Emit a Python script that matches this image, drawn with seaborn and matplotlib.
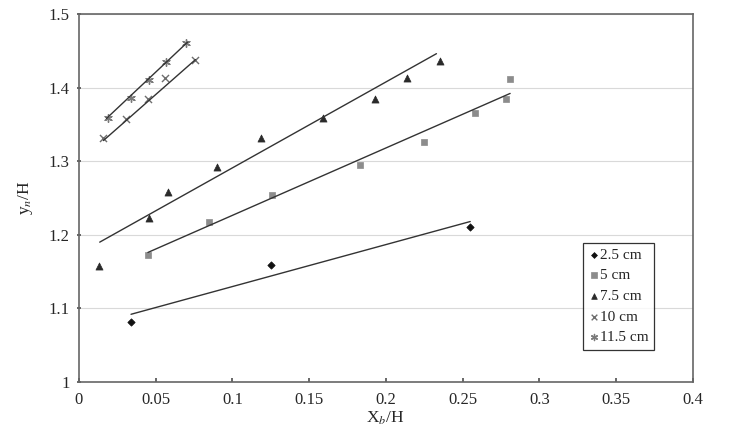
import pandas as pd
import matplotlib.pyplot as plt
import seaborn as sns
import numpy as np

# Data
DEPTHS = ["2.5 cm", "5 cm", "7.5 cm", "10 cm", "11.5 cm"]

x_25 = [0.034, 0.125, 0.255]
y_25 = [1.082, 1.159, 1.210]

x_5 = [0.045, 0.085, 0.126, 0.183, 0.225, 0.258, 0.278, 0.281]
y_5 = [1.172, 1.218, 1.254, 1.295, 1.326, 1.366, 1.385, 1.412]

x_75 = [0.013, 0.046, 0.058, 0.090, 0.119, 0.159, 0.193, 0.214, 0.235]
y_75 = [1.158, 1.223, 1.258, 1.292, 1.331, 1.359, 1.385, 1.413, 1.436]

x_10 = [0.016, 0.031, 0.045, 0.056, 0.076]
y_10 = [1.331, 1.357, 1.384, 1.413, 1.437]

x_115 = [0.019, 0.034, 0.046, 0.057, 0.070]
y_115 = [1.358, 1.386, 1.410, 1.435, 1.461]

# trend line end points (x start, x end, y start, y end)
trend_x0 = [0.034, 0.045, 0.0136, 0.016, 0.018]
trend_x1 = [0.255, 0.281, 0.233, 0.076, 0.071]
trend_y0 = [1.092, 1.176, 1.190, 1.328, 1.358]
trend_y1 = [1.218, 1.392, 1.446, 1.438, 1.462]

points = pd.concat([
    pd.DataFrame({"x": x_25, "y": y_25, "Depth": "2.5 cm"}),
    pd.DataFrame({"x": x_5, "y": y_5, "Depth": "5 cm"}),
    pd.DataFrame({"x": x_75, "y": y_75, "Depth": "7.5 cm"}),
    pd.DataFrame({"x": x_10, "y": y_10, "Depth": "10 cm"}),
    pd.DataFrame({"x": x_115, "y": y_115, "Depth": "11.5 cm"}),
], ignore_index=True)

trend = pd.DataFrame({
    "x": trend_x0 + trend_x1,
    "y": trend_y0 + trend_y1,
    "Depth": DEPTHS + DEPTHS,
})

markers = {"2.5 cm": "D", "5 cm": "s", "7.5 cm": "^", "10 cm": "x", "11.5 cm": (6, 2, 0)}
colors = {"2.5 cm": "#111111", "5 cm": "#8c8c8c", "7.5 cm": "#2a2a2a",
          "10 cm": "#6e6e6e", "11.5 cm": "#7a7a7a"}
sizes = {"2.5 cm": 14, "5 cm": 24, "7.5 cm": 26, "10 cm": 26, "11.5 cm": 30}

sns.set_theme(style="white")
plt.rcParams["font.family"] = ["Liberation Serif", "DejaVu Serif"]
plt.rcParams["mathtext.fontset"] = "stix"

fig = plt.figure(figsize=(7.3, 4.3), dpi=100)
ax = fig.add_axes([0.108, 0.1116, 0.841, 0.856])

ax.grid(axis="y", color="#d9d9d9", linewidth=0.8)
ax.set_axisbelow(True)

sns.lineplot(data=trend, x="x", y="y", units="Depth", estimator=None,
             color="#333333", linewidth=1.0, legend=False, ax=ax)

for d in DEPTHS:
    sub = points[points["Depth"] == d]
    m = markers[d]
    kw = dict(linewidth=1.0) if m in ("x", (6, 2, 0)) else dict(edgecolor=colors[d], linewidth=0.5)
    sns.scatterplot(data=sub, x="x", y="y", marker=m, color=colors[d],
                    s=sizes[d], label=d, ax=ax, **kw)

ax.set_xlim(0, 0.4)
ax.set_ylim(1.0, 1.5)
ax.set_xticks(np.arange(0, 0.401, 0.05))
ax.set_yticks(np.arange(1.0, 1.501, 0.1))
ax.set_xticklabels(["0", "0.05", "0.1", "0.15", "0.2", "0.25", "0.3", "0.35", "0.4"])
ax.set_yticklabels(["1", "1.1", "1.2", "1.3", "1.4", "1.5"])
ax.tick_params(axis="x", labelsize=12, length=3, direction="in",
               color="#555555", bottom=True, pad=7)
ax.tick_params(axis="y", labelsize=12, length=3, direction="inout",
               color="#555555", left=True, pad=5)

for s in ["top", "right", "left", "bottom"]:
    ax.spines[s].set_color("#666666")
    ax.spines[s].set_linewidth(1.2)

ax.set_xlabel("X$_b$/H", fontsize=12.5, labelpad=1)
ax.set_ylabel("y$_n$/H", fontsize=12.5, labelpad=10)

leg = ax.legend(loc="upper left", bbox_to_anchor=(0.821, 0.378), fontsize=11,
                frameon=True, fancybox=False, edgecolor="black",
                handletextpad=0.1, borderpad=0.35, labelspacing=0.45,
                handlelength=0.7, markerscale=0.8, borderaxespad=0)
leg.get_frame().set_linewidth(0.9)

fig.savefig("out.png", dpi=100)
